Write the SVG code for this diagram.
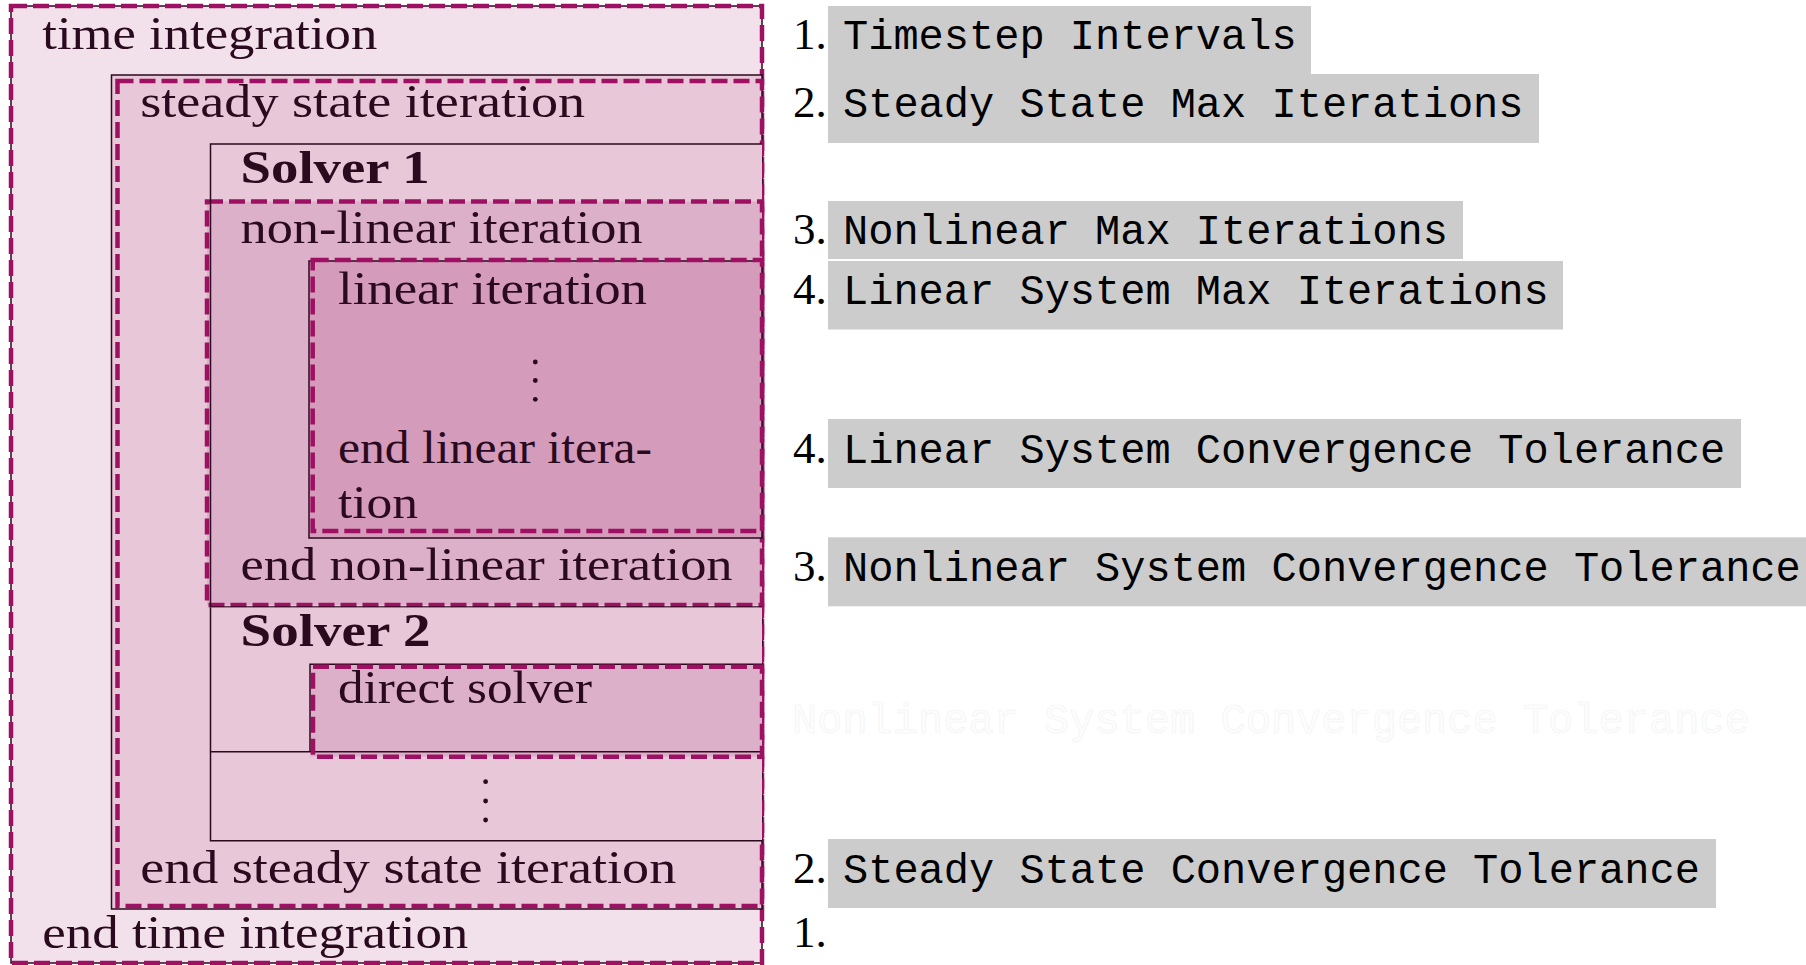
<svg xmlns="http://www.w3.org/2000/svg" width="1806" height="965" viewBox="0 0 1806 965">
<style>
.lbl{font-family:"Liberation Serif","Times New Roman",serif;font-size:46px;fill:#2a0a1e}
.bold{font-weight:bold}
.num{font-family:"Liberation Serif","Times New Roman",serif;font-size:45px;fill:#000}
.tt{font-family:"Liberation Mono","Courier New",monospace;font-size:42px;fill:#000}
.ghost{font-family:"Liberation Mono","Courier New",monospace;font-size:42px;fill:#fdfdfd;stroke:#f2f2f2;stroke-width:0.6}
.hl{fill:#cccccc}
.frame{fill:none;stroke:#2a0a1e;stroke-width:1.5}
.dash{fill:none;stroke:#9e1062;stroke-width:4.5;stroke-dasharray:16 6}
.dot{fill:#2a0a1e}
.c0{fill:#f2e1eb}
.c1{fill:#e8c7d8}
.c2{fill:#ddb0c9}
.c3{fill:#d49bbb}
</style>
<rect width="1806" height="965" fill="#ffffff"/>

<g id="time-integration">
  <rect class="c0" x="11" y="6" width="751" height="957"/>
  <rect class="frame" x="11" y="6" width="751" height="957"/>
  <rect class="dash" x="11" y="6" width="751" height="957"/>
  <text class="lbl" x="42.3" y="49.3" textLength="335" lengthAdjust="spacingAndGlyphs">time integration</text>
  <text class="lbl" x="42.3" y="948.3" textLength="426" lengthAdjust="spacingAndGlyphs">end time integration</text>

  <g id="steady-state-iteration">
    <rect class="c1" x="111.5" y="75" width="650.5" height="834"/>
    <rect class="frame" x="111.5" y="75" width="650.5" height="834"/>
    <rect class="dash" x="117.5" y="81" width="644.5" height="825"/>
    <text class="lbl" x="140.2" y="117.3" textLength="445" lengthAdjust="spacingAndGlyphs">steady state iteration</text>
    <text class="lbl" x="140.2" y="883.3" textLength="536" lengthAdjust="spacingAndGlyphs">end steady state iteration</text>

    <g id="solver-1">
      <rect class="c1" x="210.5" y="144" width="551.5" height="463"/>
      <text class="lbl bold" x="240.6" y="182.7" textLength="189" lengthAdjust="spacingAndGlyphs">Solver 1</text>

      <g id="non-linear-iteration">
        <rect class="c2" x="207" y="201.5" width="555" height="403.5"/>
        <rect class="dash" x="207" y="201.5" width="555" height="403.5"/>
        <text class="lbl" x="240.6" y="243.3" textLength="402" lengthAdjust="spacingAndGlyphs">non-linear iteration</text>
        <text class="lbl" x="240.6" y="580" textLength="492" lengthAdjust="spacingAndGlyphs">end non-linear iteration</text>

        <g id="linear-iteration">
          <rect class="c3" x="309" y="261" width="453" height="277"/>
          <rect class="frame" x="309" y="261" width="453" height="277"/>
          <rect class="dash" x="312.7" y="260" width="449.3" height="271"/>
          <text class="lbl" x="338" y="304" textLength="309" lengthAdjust="spacingAndGlyphs">linear iteration</text>
          <g id="linear-vdots">
            <circle class="dot" cx="535.3" cy="362" r="2.4"/>
            <circle class="dot" cx="535.3" cy="380.5" r="2.4"/>
            <circle class="dot" cx="535.3" cy="399.3" r="2.4"/>
          </g>
          <text class="lbl" x="338" y="462.7" textLength="314" lengthAdjust="spacingAndGlyphs">end linear itera-</text>
          <text class="lbl" x="338" y="518.3" textLength="80" lengthAdjust="spacingAndGlyphs">tion</text>
        </g>
      </g>
      <path class="frame" d="M762 144 H210.5 V607 H762"/>
    </g>

    <g id="further-solvers">
      <rect class="c1" x="210.5" y="752.5" width="551.5" height="88.2"/>
      <path class="frame" d="M210.5 751.7 V840.7 H762"/>
      <circle class="dot" cx="485.6" cy="781.7" r="2.4"/>
      <circle class="dot" cx="485.6" cy="801" r="2.4"/>
      <circle class="dot" cx="485.6" cy="820" r="2.4"/>
    </g>

    <g id="solver-2">
      <rect class="c1" x="210.5" y="607.5" width="551.5" height="144.5"/>
      <text class="lbl bold" x="240.6" y="646" textLength="190" lengthAdjust="spacingAndGlyphs">Solver 2</text>
      <g id="direct-solver">
        <rect class="c2" x="310" y="664.3" width="452" height="92.4"/>
        <path class="frame" d="M762 664.3 H310 V751.7"/>
        <path class="frame" d="M210.5 607.5 V751.7 H762"/>
        <rect class="dash" x="313" y="666.7" width="449" height="90"/>
        <text class="lbl" x="338" y="702.7" textLength="254" lengthAdjust="spacingAndGlyphs">direct solver</text>
      </g>
    </g>
  </g>
</g>

<g id="connectors"></g>

<g id="param-timestep-intervals">
  <rect class="hl" x="828" y="6" width="483" height="68"/>
  <text class="num" x="793" y="49.3">1.</text>
  <text class="tt" x="843" y="49.3">Timestep Intervals</text>
</g>
<g id="param-steady-max">
  <rect class="hl" x="828" y="74" width="711" height="69"/>
  <text class="num" x="793" y="117.3">2.</text>
  <text class="tt" x="843" y="117.3">Steady State Max Iterations</text>
</g>
<g id="param-nonlinear-max">
  <rect class="hl" x="828" y="201" width="635" height="58"/>
  <text class="num" x="793" y="244.3">3.</text>
  <text class="tt" x="843" y="244.3">Nonlinear Max Iterations</text>
</g>
<g id="param-linear-max">
  <rect class="hl" x="828" y="261" width="735" height="68.5"/>
  <text class="num" x="793" y="304">4.</text>
  <text class="tt" x="843" y="304">Linear System Max Iterations</text>
</g>
<g id="param-linear-tol">
  <rect class="hl" x="828" y="419" width="913" height="69"/>
  <text class="num" x="793" y="462.7">4.</text>
  <text class="tt" x="843" y="462.7">Linear System Convergence Tolerance</text>
</g>
<g id="param-nonlinear-tol">
  <rect class="hl" x="828" y="537.3" width="980" height="69"/>
  <text class="num" x="793" y="581">3.</text>
  <text class="tt" x="843" y="581">Nonlinear System Convergence Tolerance</text>
</g>
<g id="ghost-nonlinear-tol">
  <text class="ghost" x="792" y="732.7">Nonlinear System Convergence Tolerance</text>
</g>
<g id="param-steady-tol">
  <rect class="hl" x="828" y="839" width="888" height="69"/>
  <text class="num" x="793" y="882.7">2.</text>
  <text class="tt" x="843" y="882.7">Steady State Convergence Tolerance</text>
</g>
<g id="param-end-time">
  <text class="num" x="793" y="947.3">1.</text>
</g>
</svg>
